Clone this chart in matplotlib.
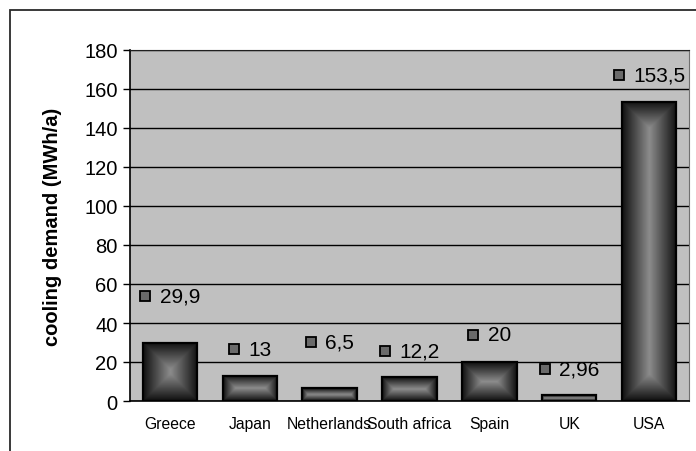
import numpy as np
import matplotlib
matplotlib.use("Agg")
from matplotlib import pyplot as plt
from matplotlib.patches import Rectangle

countries = ["Greece", "Japan", "Netherlands", "South africa", "Spain", "UK", "USA"]
demand = [29.9, 13, 6.5, 12.2, 20, 2.96, 153.5]
label_y = [54, 26.5, 30.5, 25.5, 34, 16.5, 167]
yticks = [0, 20, 40, 60, 80, 100, 120, 140, 160, 180]

plt.rcParams['font.family'] = ['Liberation Sans', 'DejaVu Sans']

W, H = 696, 452
fig = plt.figure(figsize=(W / 100, H / 100), dpi=100)
ax = fig.add_axes([130 / W, 1 - 402 / H, (689 - 130) / W, (402 - 51) / H])
ax.set_facecolor('#c0c0c0')

# outer chart border (runs off the right and bottom edges)
fig.patches.append(Rectangle((10 / W, -0.2), 1.5, 1.2 - 11 / H,
                             transform=fig.transFigure, fill=False,
                             ec='#2a2a2a', lw=1.3, zorder=0))

ax.set_xlim(-0.5, len(countries) - 0.5)
ax.set_ylim(0, 180)
ax.set_yticks(yticks)
ax.yaxis.grid(True, color='black', lw=1.0)
ax.set_axisbelow(True)
ax.tick_params(axis='y', length=5, width=1, labelsize=14.5, pad=4)
ax.tick_params(axis='x', length=0, labelsize=11.3, pad=11)
ax.set_xticks(range(len(countries)))
ax.set_xticklabels(countries)
for s in ['left', 'bottom']:
    ax.spines[s].set_color('black')
    ax.spines[s].set_linewidth(1.2)
ax.spines['top'].set_color('#202020')
ax.spines['right'].set_color('#707070')

fig.text(53 / W, 1 - 227 / H, "cooling demand (MWh/a)", rotation=90,
         ha='center', va='center', fontsize=14.5, fontweight='bold')

bar_w = 0.68
dark, light = 0.06, 0.55


def center_gradient(wpx, hpx):
    # shade darkest at the edges, lightest towards the middle
    nx = max(int(wpx), 2)
    ny = max(int(hpx), 2)
    xs = (np.arange(nx) + 0.5) - nx / 2
    ys = (np.arange(ny) + 0.5) - ny / 2
    gx, gy = np.meshgrid(xs, ys)
    d = np.minimum(nx / 2 - np.abs(gx), ny / 2 - np.abs(gy))
    t = d / min(nx / 2, ny / 2)
    return dark + (light - dark) * np.clip(t, 0, 1)


fig.canvas.draw()
to_px = ax.transData
for i, v in enumerate(demand):
    x0, x1 = i - bar_w / 2, i + bar_w / 2
    p0 = to_px.transform((x0, 0))
    p1 = to_px.transform((x1, v))
    img = center_gradient(abs(p1[0] - p0[0]), abs(p1[1] - p0[1]))
    ax.imshow(img, extent=(x0, x1, 0, v), origin='lower', cmap='gray',
              vmin=0, vmax=1, aspect='auto', interpolation='bilinear', zorder=2)
    ax.add_patch(Rectangle((x0, 0), bar_w, v, fill=False, ec='black',
                           lw=1.6, zorder=3))

ax.set_xlim(-0.5, len(countries) - 0.5)
ax.set_ylim(0, 180)

# value labels with a small key square to their left
fig.canvas.draw()
renderer = fig.canvas.get_renderer()
inv = ax.transData.inverted()
mk_px, gap_px = 11, 9
for i, v in enumerate(demand):
    s = f"{v:g}".replace('.', ',')
    t = ax.text(i, label_y[i], s, ha='center', va='center', fontsize=15, zorder=5)
    bb = t.get_window_extent(renderer)
    cx, cy = ax.transData.transform((i, label_y[i]))
    total = mk_px + gap_px + bb.width
    left = cx - total / 2
    tx = inv.transform((left + mk_px + gap_px + bb.width / 2, cy))[0]
    t.set_x(tx)
    mx = inv.transform((left + mk_px / 2, cy))[0]
    ax.plot([mx], [label_y[i]], marker='s', ms=7.5, mfc='#6a6a6a',
            mec='black', mew=1.3, zorder=5, clip_on=False)

fig.savefig("out.png", dpi=100)
